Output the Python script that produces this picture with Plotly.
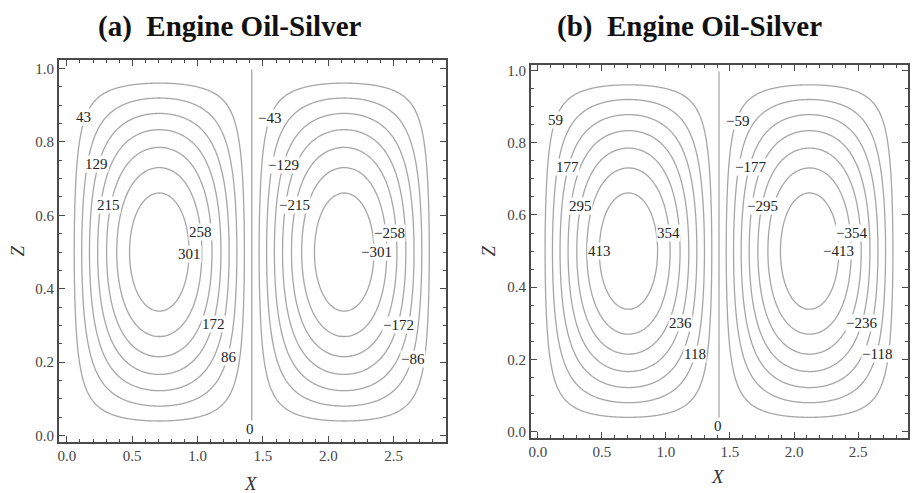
import numpy as np
import plotly.graph_objects as go

# Stream-function contour levels (left cell positive, right cell negative)
levels_a = [43, 86, 129, 172, 215, 258, 301]
levels_b = [59, 118, 177, 236, 295, 354, 413]
psi_max_a = 344
psi_max_b = 472
cell_width = np.sqrt(2)          # each roll occupies 0 <= x <= sqrt(2)
titles = ["(a)&nbsp; Engine Oil-Silver", "(b)&nbsp; Engine Oil-Silver"]

# inline contour labels: values and where the text sits
label_vals_a = [43, 129, 215, 258, 301, 172, 86, 0,
                -43, -129, -215, -258, -301, -172, -86]
label_pos_a = [(0.13, 0.868), (0.23, 0.739), (0.32, 0.628), (1.02, 0.555),
               (0.94, 0.496), (1.12, 0.305), (1.24, 0.213), (1.40, 0.019),
               (1.55, 0.865), (1.66, 0.736), (1.74, 0.628), (2.47, 0.553),
               (2.37, 0.501), (2.54, 0.302), (2.65, 0.210)]
label_vals_b = [59, 177, 295, 354, 413, 236, 118, 0,
                -59, -177, -295, -354, -413, -236, -118]
label_pos_b = [(0.14, 0.863), (0.23, 0.732), (0.33, 0.625), (1.02, 0.551),
               (0.48, 0.499), (1.11, 0.301), (1.23, 0.214), (1.41, 0.016),
               (1.56, 0.860), (1.66, 0.734), (1.75, 0.625), (2.45, 0.551),
               (2.35, 0.499), (2.53, 0.301), (2.65, 0.214)]

LINE_GRAY = "#a6a6a6"
FRAME = "#4a4a4a"
SERIF = "Liberation Serif"

# two-cell field sampled on a grid that avoids the exact zero lines
xg = np.linspace(0.002, 2 * cell_width - 0.002, 301)
zg = np.linspace(0.002, 0.998, 181)
X, Z = np.meshgrid(xg, zg)
mode = np.sin(np.pi * X / cell_width) * np.sin(np.pi * Z)

fig = go.Figure()
panels = [
    (psi_max_a, levels_a, label_vals_a, label_pos_a, "x", "y"),
    (psi_max_b, levels_b, label_vals_b, label_pos_b, "x2", "y2"),
]
for psi_max, levels, lvals, lpos, xa, ya in panels:
    fig.add_trace(go.Contour(
        x=xg, y=zg, z=psi_max * mode,
        xaxis=xa, yaxis=ya,
        contours=dict(start=-levels[-1], end=levels[-1], size=levels[0],
                      coloring="lines", showlabels=False),
        colorscale=[[0, LINE_GRAY], [1, LINE_GRAY]],
        showscale=False, line=dict(width=1.3), hoverinfo="skip",
    ))
    for v, (px, pz) in zip(lvals, lpos):
        txt = str(v) if v >= 0 else "\u2212" + str(-v)
        fig.add_annotation(x=px, y=pz, xref=xa, yref=ya, text=txt,
                           xanchor="center", yanchor="middle",
                           showarrow=False, bgcolor="white", borderpad=0,
                           font=dict(family=SERIF, size=15, color="#222"))


def xaxis_style(domain, rng):
    return dict(domain=domain, range=rng, showline=True, linecolor=FRAME,
                linewidth=1.6, mirror="ticks", ticks="inside", ticklen=6,
                tickwidth=1.2, tickcolor=FRAME, dtick=0.5, tick0=0,
                tickformat=".1f", showgrid=False, zeroline=False,
                tickfont=dict(family=SERIF, size=15, color="#444"),
                minor=dict(ticks="inside", ticklen=3, dtick=0.1, tick0=0,
                           tickcolor=FRAME, showgrid=False))


def yaxis_style(domain, rng, anchor):
    return dict(domain=domain, range=rng, anchor=anchor, showline=True,
                linecolor=FRAME, linewidth=1.6, mirror="ticks",
                ticks="inside", ticklen=6, tickwidth=1.2, tickcolor=FRAME,
                dtick=0.2, tick0=0, tickformat=".1f", showgrid=False,
                zeroline=False,
                tickfont=dict(family=SERIF, size=15, color="#444"),
                minor=dict(ticks="inside", ticklen=3, dtick=0.05, tick0=0,
                           tickcolor=FRAME, showgrid=False))


W, H = 912, 493
fig.update_layout(
    width=W, height=H, margin=dict(l=0, r=0, t=0, b=0),
    paper_bgcolor="white", plot_bgcolor="white", showlegend=False,
    xaxis=dict(**xaxis_style([57 / W, 445 / W], [-0.061, 2.90]), anchor="y"),
    yaxis=yaxis_style([50 / H, 435 / H], [-0.016, 1.022], "x"),
    xaxis2=dict(**xaxis_style([530 / W, 908 / W], [-0.055, 2.89]), anchor="y2"),
    yaxis2=yaxis_style([54 / H, 430 / H], [-0.016, 1.014], "x2"),
)

# panel titles and axis names
for txt, cx in zip(titles, [228, 689]):
    fig.add_annotation(x=cx / W, y=1 - 24 / H, xref="paper", yref="paper",
                       xanchor="center", yanchor="middle",
                       text="<b>" + txt + "</b>", showarrow=False,
                       font=dict(family=SERIF, size=29, color="#111"))
for cx, cy in [(250, 485), (718, 478)]:
    fig.add_annotation(x=cx / W, y=1 - cy / H, xref="paper", yref="paper",
                       xanchor="center", yanchor="middle",
                       text="<i>X</i>", showarrow=False,
                       font=dict(family=SERIF, size=19, color="#333"))
for cx, cy in [(15, 250), (488, 250)]:
    fig.add_annotation(x=cx / W, y=1 - cy / H, xref="paper", yref="paper",
                       xanchor="center", yanchor="middle",
                       text="<i>Z</i>", showarrow=False, textangle=-90,
                       font=dict(family=SERIF, size=19, color="#333"))

fig.write_html("out.html")
